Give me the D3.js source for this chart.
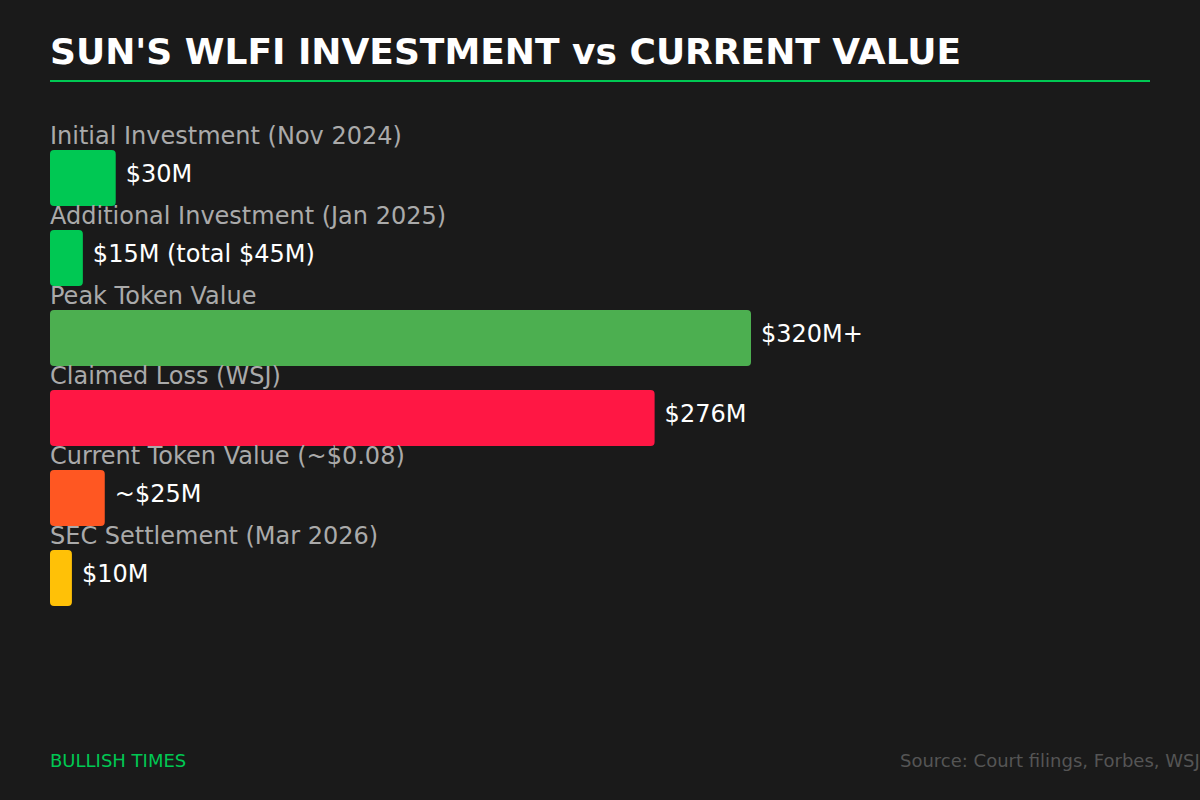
<!DOCTYPE html>
<html>
<head>
<meta charset="utf-8">
<script src="https://cdn.jsdelivr.net/npm/d3@7"></script>
<style>
html,body{margin:0;padding:0;background:#1a1a1a;}
svg{display:block;font-family:"DejaVu Sans",sans-serif;}
</style>
</head>
<body>
<svg id="chart" width="1200" height="800"></svg>
<script>
const categories = ["Initial Investment (Nov 2024)","Additional Investment (Jan 2025)","Peak Token Value","Claimed Loss (WSJ)","Current Token Value (~$0.08)","SEC Settlement (Mar 2026)"];
const values = [30, 15, 320, 276, 25, 10];
const valueLabels = ["$30M","$15M (total $45M)","$320M+","$276M","~$25M","$10M"];
const colors = ["#00c853","#00c853","#4caf50","#ff1744","#ff5722","#ffc107"];

const svg = d3.select("#chart");
svg.append("rect").attr("width",1200).attr("height",800).attr("fill","#1a1a1a");

svg.append("text").attr("x",50).attr("y",64).attr("fill","#ffffff")
  .attr("font-size",36).attr("font-weight","bold").text("SUN'S WLFI INVESTMENT vs CURRENT VALUE");
svg.append("line").attr("x1",50).attr("x2",1150).attr("y1",81).attr("y2",81)
  .attr("stroke","#00c853").attr("stroke-width",2);

const x = d3.scaleLinear().domain([0,320]).range([0,701]);
const y = d3.scaleBand().domain(d3.range(categories.length)).range([150,630]).paddingInner(0).paddingOuter(0);
const barH = 56;

const g = svg.append("g").attr("transform","translate(50,0)");
const rows = g.selectAll("g.row").data(values).join("g").attr("class","row");

rows.append("text").attr("x",0).attr("y",(d,i)=>y(i)-6)
  .attr("fill","#aaaaaa").attr("font-size",24).text((d,i)=>categories[i]);

rows.append("rect").attr("x",0).attr("y",(d,i)=>y(i))
  .attr("width",d=>x(d)).attr("height",barH).attr("rx",4)
  .attr("fill",(d,i)=>colors[i]);

rows.append("text").attr("x",d=>x(d)+10).attr("y",(d,i)=>y(i)+barH/2+4)
  .attr("fill","#ffffff").attr("font-size",24)
  .text((d,i)=>valueLabels[i]);

svg.append("text").attr("x",50).attr("y",767).attr("fill","#00c853")
  .attr("font-size",18).text("BULLISH TIMES");
svg.append("text").attr("x",900).attr("y",767).attr("fill","#555555")
  .attr("font-size",18).text("Source: Court filings, Forbes, WSJ");
</script>
</body>
</html>
